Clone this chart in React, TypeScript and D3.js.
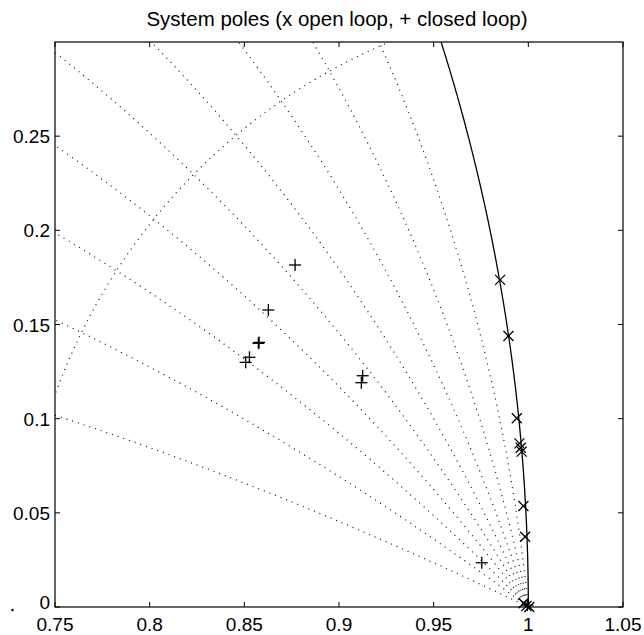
import React, { useEffect } from 'react';
import * as d3 from 'd3';

// open loop poles (x)
const openRe = [0.9851, 0.9895, 0.9939, 0.9953, 0.9960, 0.9965, 0.9974, 0.9983, 0.9975, 0.999, 1.0005];
const openIm = [0.1737, 0.1439, 0.1002, 0.0869, 0.0846, 0.0825, 0.0536, 0.0373, 0.002, 0.0005, 0.0];

// closed loop poles (+)
const closedRe = [0.8768, 0.8627, 0.8574, 0.8578, 0.8527, 0.8507, 0.9125, 0.9118, 0.9754, 0.9995];
const closedIm = [0.1816, 0.1577, 0.1400, 0.1405, 0.1326, 0.1299, 0.1228, 0.1191, 0.0235, 0.001];

// zgrid settings
const zetaValues = [0.1, 0.2, 0.3, 0.4, 0.5, 0.6, 0.7, 0.8, 0.9];
const wnValues = [0.1 * Math.PI];

const xTicks = [0.75, 0.8, 0.85, 0.9, 0.95, 1, 1.05];
const yTicks = [0, 0.05, 0.1, 0.15, 0.2, 0.25];

const title = 'System poles (x open loop, + closed loop)';

const W = 644;
const H = 635;
const m = { left: 55, right: 623, top: 42, bottom: 607 };

const App = () => {
  useEffect(() => {
    document.body.style.margin = '0';
  }, []);

  const x = d3.scaleLinear().domain([0.75, 1.05]).range([m.left, m.right]);
  const y = d3.scaleLinear().domain([0, 0.3]).range([m.bottom, m.top]);

  const line = d3.line<[number, number]>()
    .x(d => x(d[0]))
    .y(d => y(d[1]));

  // constant damping lines, starting at z = 1
  const zetaPaths = zetaValues.map(zeta => {
    const wd = Math.sqrt(1 - zeta * zeta);
    const pts: [number, number][] = d3.range(0, 301).map(i => {
      const wn = (i / 300) * 0.7;
      const r = Math.exp(-zeta * wn);
      return [r * Math.cos(wn * wd), r * Math.sin(wn * wd)];
    });
    return line(pts);
  });

  // constant natural frequency curves
  const wnPaths = wnValues.map(wn => {
    const pts: [number, number][] = d3.range(0, 201).map(i => {
      const zeta = i / 200;
      const r = Math.exp(-zeta * wn);
      const wd = Math.sqrt(1 - zeta * zeta);
      return [r * Math.cos(wn * wd), r * Math.sin(wn * wd)];
    });
    return line(pts);
  });

  // unit circle
  const circlePts: [number, number][] = d3.range(0, 41).map(i => {
    const a = (i / 40) * 0.36;
    return [Math.cos(a), Math.sin(a)];
  });

  const font = '"Liberation Sans", Arial, Helvetica, sans-serif';
  const tick = 5;

  return (
    <svg width={W} height={H} style={{ display: 'block', background: '#fff' }}>
      <defs>
        <clipPath id="plot">
          <rect x={m.left} y={m.top} width={m.right - m.left} height={m.bottom - m.top} />
        </clipPath>
      </defs>

      <text x={337} y={26} textAnchor="middle" fontFamily={font} fontSize={20.5} fill="#000">
        {title}
      </text>

      <g clipPath="url(#plot)">
        {zetaPaths.map((d, i) => (
          <path key={'z' + i} d={d || ''} fill="none" stroke="#111" strokeWidth={1.2} strokeDasharray="1 5" />
        ))}
        {wnPaths.map((d, i) => (
          <path key={'w' + i} d={d || ''} fill="none" stroke="#111" strokeWidth={1.2} strokeDasharray="1 5" />
        ))}
        <path d={line(circlePts) || ''} fill="none" stroke="#000" strokeWidth={1.3} />
      </g>

      {/* axes box */}
      <rect x={m.left} y={m.top} width={m.right - m.left} height={m.bottom - m.top}
        fill="none" stroke="#000" strokeWidth={1.2} />

      {xTicks.map(t => (
        <g key={'xt' + t}>
          <line x1={x(t)} x2={x(t)} y1={m.bottom} y2={m.bottom - tick} stroke="#000" />
          <line x1={x(t)} x2={x(t)} y1={m.top} y2={m.top + tick} stroke="#000" />
          <text x={x(t)} y={631} textAnchor="middle" fontFamily={font} fontSize={19} fill="#000">
            {String(t)}
          </text>
        </g>
      ))}
      {yTicks.map(t => (
        <g key={'yt' + t}>
          <line x1={m.left} x2={m.left + tick} y1={y(t)} y2={y(t)} stroke="#000" />
          <line x1={m.right} x2={m.right - tick} y1={y(t)} y2={y(t)} stroke="#000" />
          <text x={50} y={y(t) + (t === 0 ? 2 : 7)} textAnchor="end" fontFamily={font} fontSize={19} fill="#000">
            {String(t)}
          </text>
        </g>
      ))}

      {/* closed loop poles */}
      {closedRe.map((re, i) => {
        const cx = x(re);
        const cy = y(closedIm[i]);
        return (
          <g key={'c' + i} stroke="#000" strokeWidth={1.3}>
            <line x1={cx - 6} x2={cx + 6} y1={cy} y2={cy} />
            <line x1={cx} x2={cx} y1={cy - 6} y2={cy + 6} />
          </g>
        );
      })}

      {/* open loop poles */}
      {openRe.map((re, i) => {
        const cx = x(re);
        const cy = y(openIm[i]);
        return (
          <g key={'o' + i} stroke="#000" strokeWidth={1.3}>
            <line x1={cx - 5} x2={cx + 5} y1={cy - 5} y2={cy + 5} />
            <line x1={cx - 5} x2={cx + 5} y1={cy + 5} y2={cy - 5} />
          </g>
        );
      })}

      <circle cx={12.5} cy={610} r={1.2} fill="#000" />
    </svg>
  );
};

export default App;
